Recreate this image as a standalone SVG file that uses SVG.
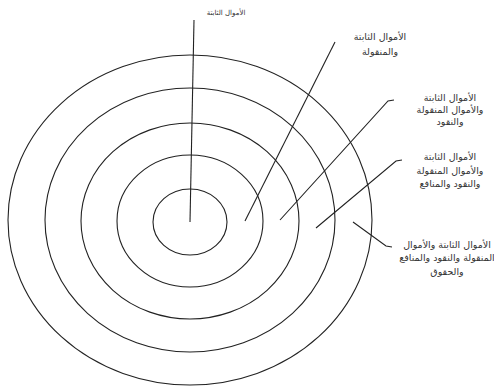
<svg xmlns="http://www.w3.org/2000/svg" width="494" height="388" viewBox="0 0 494 388">
<style>
.ring{fill:none;stroke:#222;stroke-width:1.1}
.ln{fill:none;stroke:#222;stroke-width:1.1}
.t{font-family:"DejaVu Sans",sans-serif;font-size:9.5px;fill:#333;text-anchor:middle}
.s{font-size:7px}
</style>
<rect width="494" height="388" fill="#fff"/>
<g id="rings">
<ellipse id="ring5" class="ring" cx="190" cy="220" rx="182" ry="165"/>
<ellipse id="ring4" class="ring" cx="190" cy="220" rx="145" ry="132"/>
<ellipse id="ring3" class="ring" cx="190" cy="221" rx="109" ry="98"/>
<ellipse id="ring2" class="ring" cx="190" cy="221" rx="73" ry="66"/>
<ellipse id="ring1" class="ring" cx="190" cy="222" rx="37" ry="33"/>
</g>
<g id="connectors">
<polyline class="ln" points="190,222 194,20"/>
<polyline class="ln" points="245,221 335,42"/>
<polyline class="ln" points="280,220 388,101 394,100"/>
<polyline class="ln" points="316,228 396,161 402,160"/>
<polyline class="ln" points="353,222 386,246 392,247"/>
</g>
<g id="label1"><text class="t s" x="226" y="15">الأموال الثابتة</text></g>
<g id="label2"><text class="t" x="380" y="40">الأموال الثابتة</text><text class="t" x="380" y="55">والمنقولة</text></g>
<g id="label3"><text class="t" x="450" y="101">الأموال الثابتة</text><text class="t" x="450" y="113">والأموال المنقولة</text><text class="t" x="450" y="125">والنقود</text></g>
<g id="label4"><text class="t" x="450" y="160">الأموال الثابتة</text><text class="t" x="450" y="174">والأموال المنقولة</text><text class="t" x="450" y="187">والنقود والمنافع</text></g>
<g id="label5"><text class="t" x="447" y="248">الأموال الثابتة والأموال</text><text class="t" x="447" y="261">المنقولة والنقود والمنافع</text><text class="t" x="447" y="275">والحقوق</text></g>
</svg>
